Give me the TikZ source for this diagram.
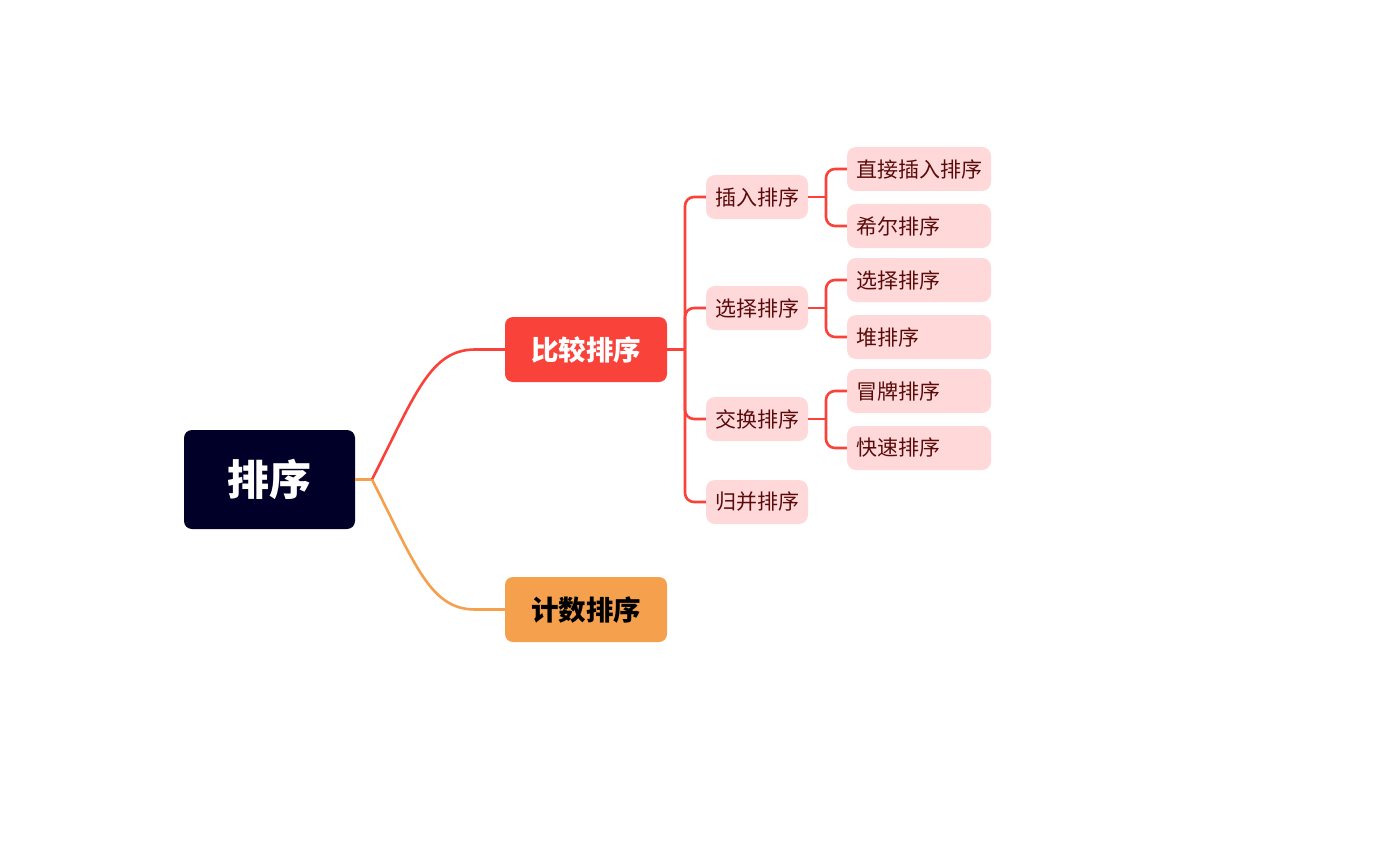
\documentclass[tikz,border=0pt]{standalone}
\usepackage{fontspec}
\setmainfont{Noto Sans CJK SC}
\definecolor{rootc}{HTML}{000028}
\definecolor{redc}{HTML}{F9423A}
\definecolor{orc}{HTML}{F5A04C}
\definecolor{pinkc}{HTML}{FFD9D9}
\definecolor{txtc}{HTML}{5A0A0A}
\tikzset{
  rootbox/.style={fill=rootc, rounded corners=8pt, minimum width=171pt, minimum height=99pt, text=white, font=\fontsize{42}{46}\selectfont\bfseries},
  lvlone/.style={rounded corners=8pt, minimum width=162pt, minimum height=65pt, font=\fontsize{27.5}{31}\selectfont\bfseries},
  lvltwo/.style={fill=pinkc, rounded corners=9pt, minimum width=102pt, minimum height=44pt, inner sep=0pt, text=txtc, font=\fontsize{21}{24}\selectfont},
  lvlthree/.style={fill=pinkc, rounded corners=9pt, text width=126pt, inner xsep=9pt, inner ysep=0pt, minimum height=44pt, align=left, text=txtc, font=\fontsize{21}{24}\selectfont},
  redline/.style={draw=redc, line width=2.6pt},
  orline/.style={draw=orc, line width=2.6pt},
  branch/.style={redline, rounded corners=9pt},
}
\begin{document}
\begin{tikzpicture}[x=1pt,y=-1pt]
\useasboundingbox (0,0) rectangle (1385,864);
\node[rootbox] (root) at (269.5,479.5) {排序};
\node[lvlone, fill=redc, text=white] (cmp) at (586,349.5) {比较排序};
\node[lvlone, fill=orc, text=black] (cnt) at (586,609.5) {计数排序};

\node[lvltwo] (ins) at (757,197) {插入排序};
\node[lvltwo] (sel) at (757,308) {选择排序};
\node[lvltwo] (xch) at (757,419) {交换排序};
\node[lvltwo] (mrg) at (757,502) {归并排序};

\node[lvlthree] (l1) at (919,169) {直接插入排序};
\node[lvlthree] (l2) at (919,226) {希尔排序};
\node[lvlthree] (l3) at (919,280) {选择排序};
\node[lvlthree] (l4) at (919,337) {堆排序};
\node[lvlthree] (l5) at (919,391) {冒牌排序};
\node[lvlthree] (l6) at (919,448) {快速排序};

% root connectors
\coordinate (rj) at (372,479.5);
\draw[orline] (root.east) -- (rj);
\draw[redline] (rj) .. controls (415,395) and (430,349.5) .. (475,349.5) -- (cmp.west);
\draw[orline] (rj) .. controls (415,564) and (430,609.5) .. (475,609.5) -- (cnt.west);

% level 1 -> level 2
\coordinate (cj) at (685,349.5);
\draw[redline] (cmp.east) -- (cj);
\draw[branch] (cj) |- (ins.west);
\draw[branch] (cj) |- (sel.west);
\draw[branch] (cj) |- (xch.west);
\draw[branch] (cj) |- (mrg.west);

% level 2 -> level 3
\coordinate (ij) at (826,197);
\draw[redline] (ins.east) -- (ij);
\draw[branch] (ij) |- (l1.west);
\draw[branch] (ij) |- (l2.west);
\coordinate (sj) at (826,308);
\draw[redline] (sel.east) -- (sj);
\draw[branch] (sj) |- (l3.west);
\draw[branch] (sj) |- (l4.west);
\coordinate (xj) at (826,419);
\draw[redline] (xch.east) -- (xj);
\draw[branch] (xj) |- (l5.west);
\draw[branch] (xj) |- (l6.west);
\end{tikzpicture}
\end{document}
